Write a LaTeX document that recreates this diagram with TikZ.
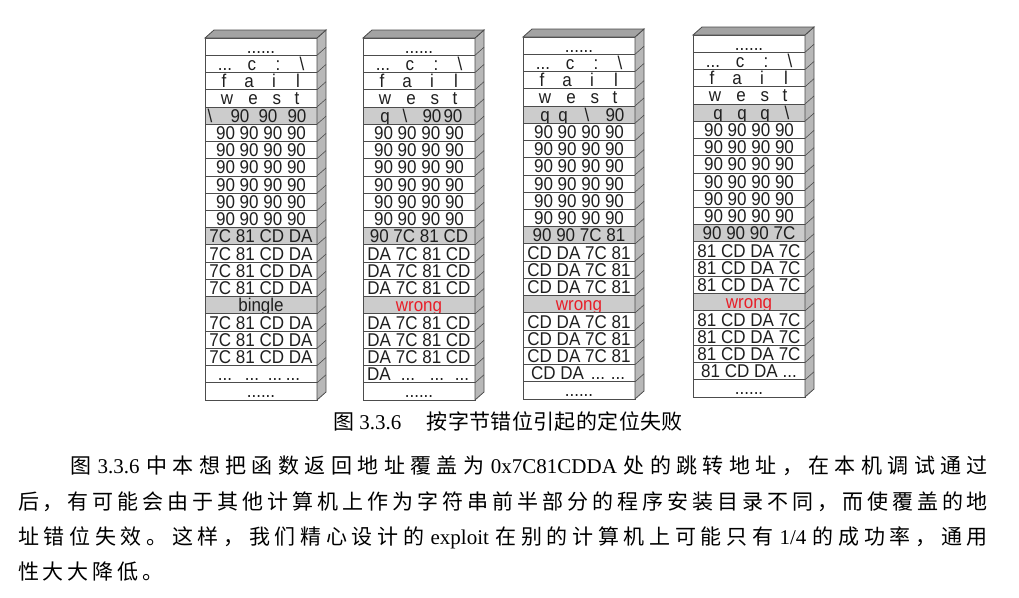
\documentclass[tikz,border=0pt]{standalone}
\usepackage{fontspec}
\setmainfont{Liberation Serif}
\newfontfamily\cellfont[FakeStretch=0.92]{Liberation Sans}
\newfontfamily\cjk{Noto Sans CJK SC}
\usetikzlibrary{calc}
\newcount\cjkcnt
\newXeTeXintercharclass\cjkcls
\cjkcnt="4E00
\loop
  \XeTeXcharclass\cjkcnt=\cjkcls
  \advance\cjkcnt by 1
\ifnum\cjkcnt<"A000 \repeat
\XeTeXcharclass"FF0C=\cjkcls
\XeTeXcharclass"3002=\cjkcls
\XeTeXinterchartoks\cjkcls\cjkcls={\hskip 0pt plus 10pt\relax}
\XeTeXinterchartokenstate=1
\definecolor{linegray}{gray}{0.3}
\definecolor{cellgray}{gray}{0.8}
\definecolor{sidegray}{gray}{0.72}
\definecolor{topgray}{gray}{0.64}
\definecolor{txt}{gray}{0.12}
\definecolor{wrongred}{RGB}{232,30,40}
\newcommand\tk[2]{\makebox[0pt]{\hspace*{#1pt}\hspace*{#1pt}\makebox[0pt]{#2}}}
\newcommand\tdots{...}
\newcommand\sdots{......}
\newcommand\stkB{\tk{-36}{\tdots}\tk{-9}{c}\tk{17}{:}\tk{41}{\textbackslash}}
\newcommand\stkC{\tk{-37}{f}\tk{-12}{a}\tk{13}{i}\tk{37}{l}}
\newcommand\stkD{\tk{-34}{w}\tk{-8}{e}\tk{16}{s}\tk{36}{t}}
\newcommand\wrongtxt{\textcolor{wrongred}{wrong}}
\tikzset{
  cell/.style={draw=linegray, line width=0.8pt, minimum width=112pt,
    minimum height=17.238pt, inner sep=0pt, outer sep=0pt,
    font=\cellfont\fontsize{18.5}{18.5}\selectfont, text=txt,
    text height=13.2pt, text depth=0pt},
  para/.style={anchor=base west, inner sep=0pt, outer sep=0pt,
    font=\fontsize{21}{25}\selectfont, text=black}
}
\newcommand\drawstack[4]{%
  \foreach \f/\t [count=\i] in {#4} {
    \node[cell, fill=\f] (#1-\i) at ({#2+56},{#3+(\i-0.5)*17.238}) {\t};
  }
  \filldraw[draw=linegray, fill=sidegray, line width=0.8pt]
    (#1-1.north east) -- ++(9,-8) -- ($(#1-21.south east)+(9,-8)$)
    -- (#1-21.south east) -- cycle;
  \foreach \i in {1,...,20} {
    \draw[linegray, line width=0.6pt] (#1-\i.south east) -- ++(9,-8);
  }
  \filldraw[draw=linegray, fill=topgray, line width=0.8pt]
    (#1-1.north west) -- ++(9,-8) -- ++(112,0) -- (#1-1.north east) -- cycle;
}
\begin{document}
\begin{tikzpicture}[x=1pt, y=-1pt]
\useasboundingbox (0,0) rectangle (1019,597);
\fill[white] (0,0) rectangle (1019,597);

\drawstack{s1}{205}{38}{white/\sdots, white/\stkB, white/\stkC, white/\stkD,
  cellgray/{\tk{-51}{\textbackslash}\tk{-21}{90}\tk{7}{90}\tk{36}{90}},
  white/90 90 90 90, white/90 90 90 90, white/90 90 90 90,
  white/90 90 90 90, white/90 90 90 90, white/90 90 90 90,
  cellgray/7C 81 CD DA,
  white/7C 81 CD DA, white/7C 81 CD DA, white/7C 81 CD DA,
  cellgray/bingle,
  white/7C 81 CD DA, white/7C 81 CD DA, white/7C 81 CD DA,
  white/{\tk{-36}{\tdots}\tk{-9}{\tdots}\tk{14}{\tdots}\tk{32}{\tdots}},
  white/\sdots}

\drawstack{s2}{363}{38}{white/\sdots, white/\stkB, white/\stkC, white/\stkD,
  cellgray/{\tk{-34}{q}\tk{-14}{\textbackslash}\tk{13}{90}\tk{34}{90}},
  white/90 90 90 90, white/90 90 90 90, white/90 90 90 90,
  white/90 90 90 90, white/90 90 90 90, white/90 90 90 90,
  cellgray/90 7C 81 CD,
  white/DA 7C 81 CD, white/DA 7C 81 CD, white/DA 7C 81 CD,
  cellgray/\wrongtxt,
  white/DA 7C 81 CD, white/DA 7C 81 CD, white/DA 7C 81 CD,
  white/{\tk{-40}{DA}\tk{-11}{\tdots}\tk{18}{\tdots}\tk{43}{\tdots}},
  white/\sdots}

\drawstack{s3}{523}{37}{white/\sdots, white/\stkB, white/\stkC, white/\stkD,
  cellgray/{\tk{-34}{q}\tk{-16}{q}\tk{8}{\textbackslash}\tk{36}{90}},
  white/90 90 90 90, white/90 90 90 90, white/90 90 90 90,
  white/90 90 90 90, white/90 90 90 90, white/90 90 90 90,
  cellgray/90 90 7C 81,
  white/CD DA 7C 81, white/CD DA 7C 81, white/CD DA 7C 81,
  cellgray/\wrongtxt,
  white/CD DA 7C 81, white/CD DA 7C 81, white/CD DA 7C 81,
  white/{\tk{-21.5}{CD DA}\tk{19}{\tdots}\tk{39}{\tdots}},
  white/\sdots}

\drawstack{s4}{693}{35}{white/\sdots, white/\stkB, white/\stkC, white/\stkD,
  cellgray/{\tk{-31}{q}\tk{-7}{q}\tk{16}{q}\tk{38}{\textbackslash}},
  white/90 90 90 90, white/90 90 90 90, white/90 90 90 90,
  white/90 90 90 90, white/90 90 90 90, white/90 90 90 90,
  cellgray/90 90 90 7C,
  white/81 CD DA 7C, white/81 CD DA 7C, white/81 CD DA 7C,
  cellgray/\wrongtxt,
  white/81 CD DA 7C, white/81 CD DA 7C, white/81 CD DA 7C,
  white/{81 CD DA \tdots},
  white/\sdots}

\node[para] (cap) at (333,429) {{\cjk 图} 3.3.6\hspace{25.5pt}\makebox[256pt][s]{\cjk 按字节错位引起的定位失败}};

\node[para] (p1) at (70,473) {\makebox[918pt][s]{{\cjk 图} 3.3.6 {\cjk 中本想把函数返回地址覆盖为} 0x7C81CDDA {\cjk 处的跳转地址，在本机调试通过}}};
\node[para] (p2) at (18,509) {\makebox[970pt][s]{\cjk 后，有可能会由于其他计算机上作为字符串前半部分的程序安装目录不同，而使覆盖的地}};
\node[para] (p3) at (18,544) {\makebox[970pt][s]{{\cjk 址错位失效。这样，我们精心设计的} exploit {\cjk 在别的计算机上可能只有} 1/4 {\cjk 的成功率，通用}}};
\node[para] (p4) at (18,579) {\makebox[145.5pt][s]{\cjk 性大大降低。}};
\end{tikzpicture}
\end{document}
